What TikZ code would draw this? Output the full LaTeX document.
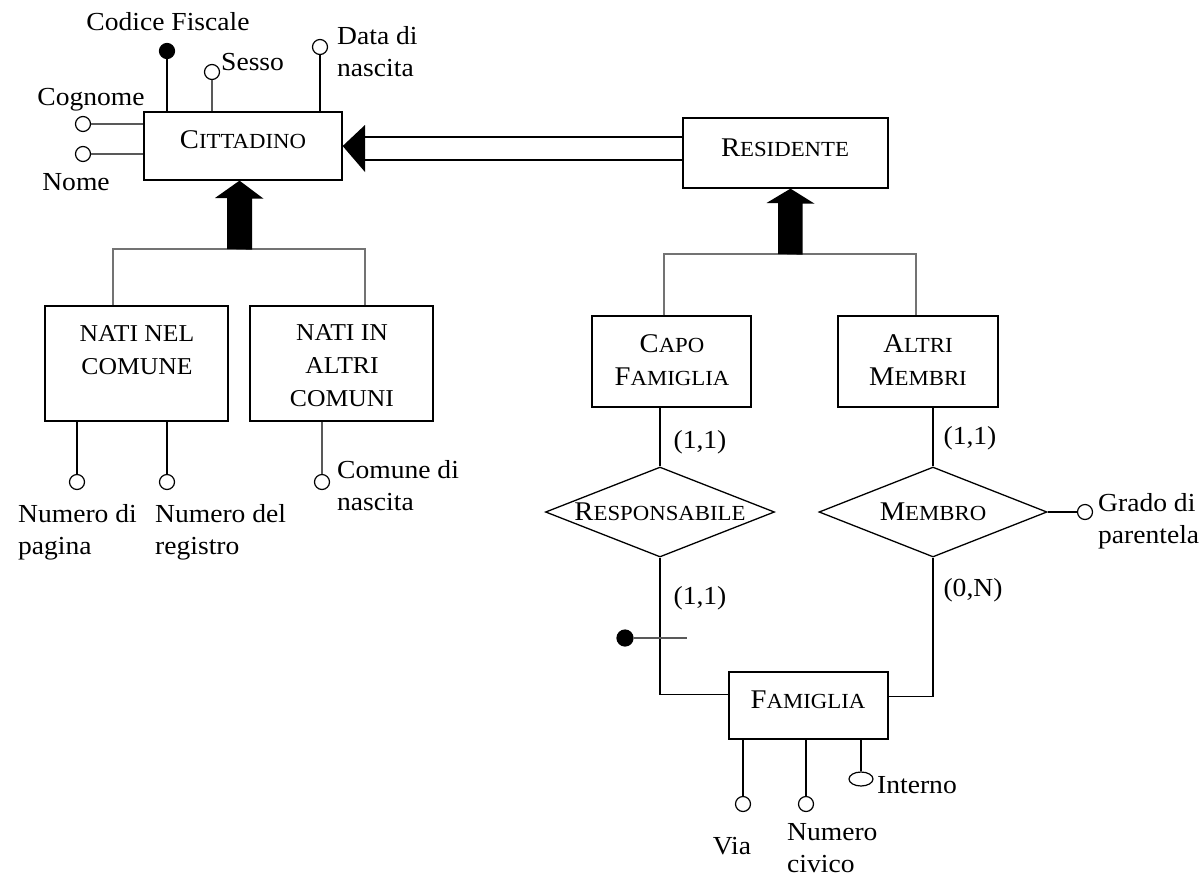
\documentclass[tikz,border=0pt]{standalone}
\usepackage{fontspec}
\setmainfont{Liberation Serif}[FakeStretch=1.06]
\usetikzlibrary{shapes.geometric}

% attribute labels and fake small caps for entity / relationship names
\newcommand{\attrfont}{\fontsize{26}{32}\selectfont}
\newcommand{\scap}[2]{{\fontsize{27}{33}\selectfont #1}{\fontsize{21.5}{33}\selectfont #2}}
\newcommand{\capsfont}{\fontsize{24.2}{33}\selectfont}

\begin{document}
\begin{tikzpicture}[x=1pt,y=-1pt,
  entity/.style={draw, rectangle, line width=1.3pt, inner sep=0pt},
  relship/.style={draw, diamond, line width=1.3pt, inner sep=0pt, aspect=2.5},
  attr/.style={draw, circle, line width=1.2pt, fill=white, minimum size=15pt, inner sep=0pt},
  keyattr/.style={attr, fill=black},
  txt/.style={inner sep=0pt, font=\attrfont},
  etxt/.style={inner sep=0pt, align=center, font=\fontsize{21.5}{33}\selectfont},
  conn/.style={line width=1.3pt},
  isa/.style={line width=1.6pt, draw=black!55},
  soft/.style={line width=1.3pt, draw=black!65},
  card/.style={inner sep=0pt, font=\attrfont}]
\useasboundingbox (0,0) rectangle (1202,879);

% ---------- entities ----------
\node[entity, minimum width=198pt, minimum height=68pt] (cit) at (243,146) {};
\node[etxt] (citT) at (243,140) {\scap{C}{ITTADINO}};

\node[entity, minimum width=205pt, minimum height=70pt] (res) at (785.5,153) {};
\node[etxt] (resT) at (785,148) {\scap{R}{ESIDENTE}};

\node[entity, minimum width=183pt, minimum height=115pt] (nnc) at (136.5,363.5) {};
\node[etxt, font=\capsfont] (nncT) at (137,350) {NATI NEL\\COMUNE};

\node[entity, minimum width=183pt, minimum height=115pt] (nac) at (341.5,363.5) {};
\node[etxt, font=\capsfont] (nacT) at (342,366) {NATI IN\\ALTRI\\COMUNI};

\node[entity, minimum width=159pt, minimum height=91pt] (capo) at (671.5,361.5) {};
\node[etxt] (capoT) at (672,360) {\scap{C}{APO}\\\scap{F}{AMIGLIA}};

\node[entity, minimum width=160pt, minimum height=91pt] (altri) at (918,361.5) {};
\node[etxt] (altriT) at (918,360) {\scap{A}{LTRI}\\\scap{M}{EMBRI}};

\node[entity, minimum width=159pt, minimum height=67pt] (fam) at (808.5,705.5) {};
\node[etxt] (famT) at (808,700) {\scap{F}{AMIGLIA}};

% ---------- relationships ----------
\node[relship, minimum width=229pt, minimum height=90pt] (resp) at (660,512) {};
\node[etxt] (respT) at (660,512) {\scap{R}{ESPONSABILE}};

\node[relship, minimum width=228pt, minimum height=90pt] (memb) at (933,512) {};
\node[etxt] (membT) at (933,512) {\scap{M}{EMBRO}};

% ---------- attributes of CITTADINO ----------
\node[keyattr] (cf) at (167,51) {};
\draw[conn] (cf) -- (cf |- cit.north);
\node[txt] (cfT) at (168,22) {Codice Fiscale};

\node[attr] (ses) at (212,72) {};
\draw[soft] (ses) -- (ses |- cit.north);
\node[txt, anchor=west] (sesT) at (221,62) {Sesso};

\node[attr] (dn) at (320,47) {};
\draw[conn] (dn) -- (dn |- cit.north);
\node[txt, anchor=west, align=left] (dnT) at (337,52) {Data di\\nascita};

\node[attr] (cog) at (83,124) {};
\draw[soft] (cog) -- (cog -| cit.west);
\node[txt] (cogT) at (91,100) {Cognome};

\node[attr] (nom) at (83,154) {};
\draw[soft] (nom) -- (nom -| cit.west);
\node[txt] (nomT) at (76,182) {Nome};

% ---------- attributes of the subclasses ----------
\node[attr] (npag) at (77,482) {};
\draw[conn] (npag) -- (npag |- nnc.south);
\node[txt, anchor=west, align=left] (npagT) at (18,532) {Numero di\\pagina};

\node[attr] (nreg) at (167,482) {};
\draw[conn] (nreg) -- (nreg |- nnc.south);
\node[txt, anchor=west, align=left] (nregT) at (155,532) {Numero del\\registro};

\node[attr] (cdn) at (322,482) {};
\draw[soft] (cdn) -- (cdn |- nac.south);
\node[txt, anchor=west, align=left] (cdnT) at (337,486) {Comune di\\nascita};

% ---------- generalization of CITTADINO ----------
\coordinate (g1l) at (113,249);
\coordinate (g1r) at (365,249);
\coordinate (g1) at (239.5,249);
\draw[isa] (g1l |- nnc.north) -- (g1l) -- (g1r) -- (g1r |- nac.north);
\fill (g1) ++(-12.5,0) -- ++(0,-51) -- ++(-12,0) -- (g1 |- cit.south)
  -- ++(24,18) -- ++(-11.5,0) -- ++(0,51) -- cycle;

% ---------- generalization of RESIDENTE ----------
\coordinate (g2l) at (664,254);
\coordinate (g2r) at (916,254);
\coordinate (g2) at (790.5,254);
\draw[isa] (g2l |- capo.north) -- (g2l) -- (g2r) -- (g2r |- altri.north);
\fill (g2) ++(-12.5,0) -- ++(0,-51) -- ++(-11.5,0) -- (g2 |- res.south)
  -- ++(24,15) -- ++(-12,0) -- ++(0,51) -- cycle;

% ---------- RESIDENTE is a CITTADINO (double line) ----------
\coordinate (hb) at (365,148);
\draw[conn] ([yshift=16pt]res.west) -- ([yshift=11pt]hb);
\draw[conn] ([yshift=-7pt]res.west) -- ([yshift=-12pt]hb);
\fill (cit.east) -- ([yshift=23pt]hb) -- ([yshift=-24pt]hb) -- cycle;

% ---------- RESPONSABILE ----------
\draw[conn] (resp.north) -- (resp.north |- capo.south);
\draw[conn] (resp.south) |- ([yshift=11pt]fam.west);
\node[card] (c1) at (700,442) {(1,1)};
\node[card] (c2) at (700,598) {(1,1)};
\node[keyattr, minimum size=16pt] (fid) at (625,638) {};
\coordinate (fidEnd) at (687,638);
\draw[soft] (fid) -- (fidEnd);

% ---------- MEMBRO ----------
\draw[conn] (memb.north) -- (memb.north |- altri.south);
\draw[conn] (memb.south) |- ([yshift=9pt]fam.east);
\node[card] (c3) at (970,438) {(1,1)};
\node[card] (c4) at (973,590) {(0,N)};
\node[attr] (gp) at (1085,512) {};
\draw[conn] (memb.east) -- (gp);
\node[txt, anchor=west, align=left] (gpT) at (1098,521) {Grado di\\parentela};

% ---------- attributes of FAMIGLIA ----------
\node[attr] (via) at (743,804) {};
\draw[conn] (via) -- (via |- fam.south);
\node[txt] (viaT) at (732,846) {Via};

\node[attr] (nciv) at (806,804) {};
\draw[conn] (nciv) -- (nciv |- fam.south);
\node[txt, anchor=west, align=left] (ncivT) at (787,848) {Numero\\civico};

\node[draw, ellipse, line width=1.2pt, minimum width=24pt, minimum height=14pt, inner sep=0pt] (int) at (861,779) {};
\draw[conn] (int) -- (int |- fam.south);
\node[txt, anchor=west] (intT) at (877,785) {Interno};
\end{tikzpicture}
\end{document}
